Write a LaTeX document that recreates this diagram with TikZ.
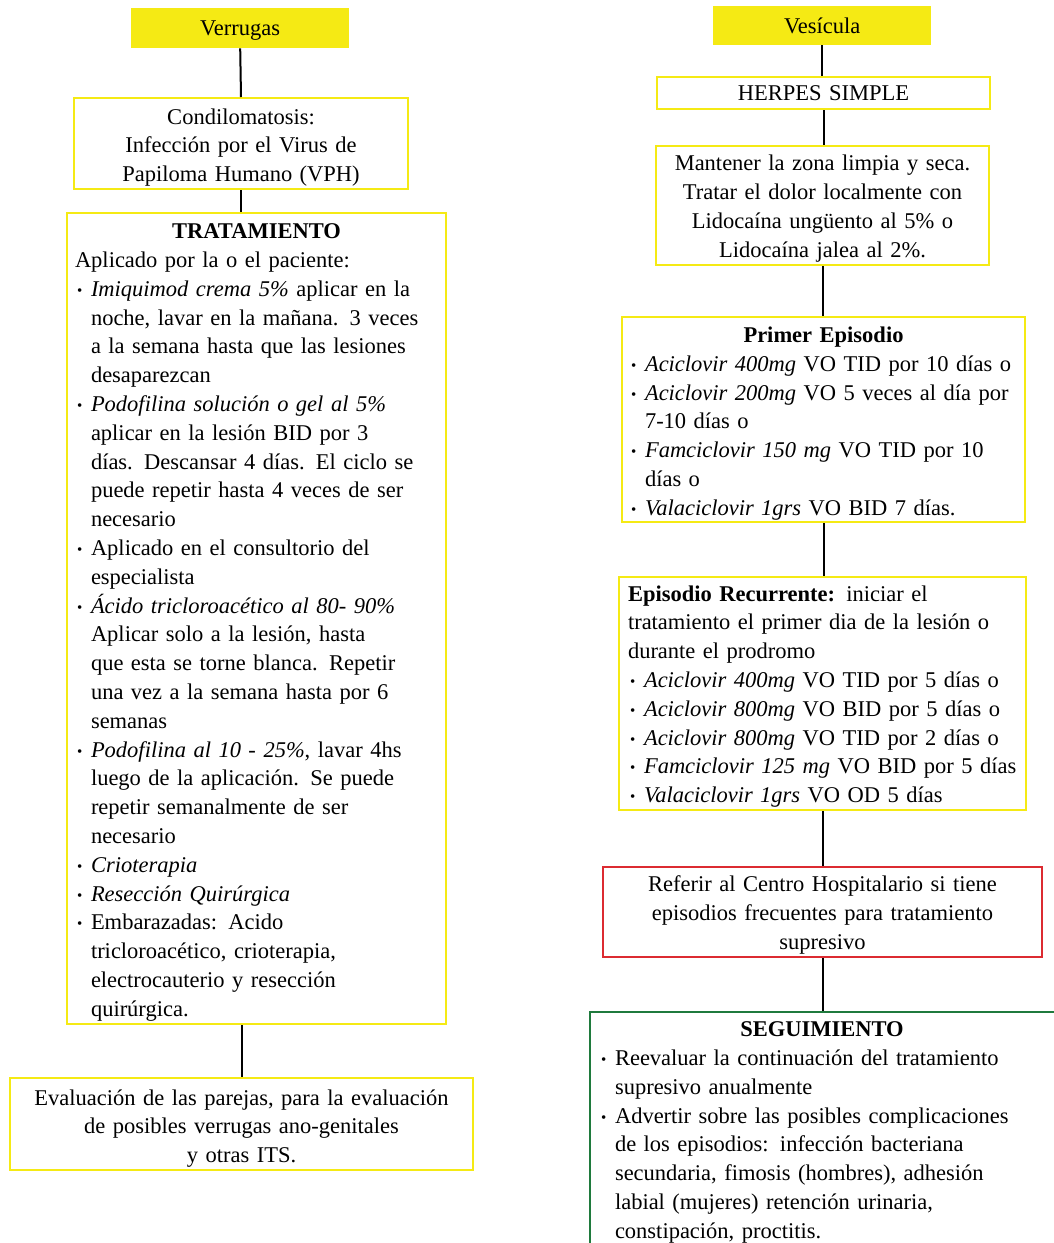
\documentclass[tikz,border=0pt]{standalone}
\usepackage{fontspec}
\setmainfont{Liberation Serif}
\definecolor{ylw}{HTML}{F5EA14}
\definecolor{rdc}{HTML}{DC2B31}
\definecolor{grnc}{HTML}{1F7A3D}
\newcommand{\fsz}{\fontsize{22.5}{28.8}\selectfont}
\newcommand{\bulx}{\makebox[16pt][l]{\hspace{2pt}\raisebox{1pt}{\fontsize{15}{15}\selectfont •}}}
\newcommand{\indx}{\hspace*{16pt}}
\newcommand{\tkdown}[1]{\par\kern-#1}
\begin{document}
\begin{tikzpicture}[x=1pt,y=-1pt,
  hdr/.style={fill=ylw, draw=none, inner sep=0pt, font=\fsz, anchor=north west,
              text width=200pt, align=center, execute at end node={\tkdown{4pt}}},
  ybox/.style={draw=ylw, line width=2pt, inner sep=0pt, font=\fsz, anchor=north west,
              execute at end node={\tkdown{6pt}}},
  sh/.style={execute at end node={\tkdown{#1}}},
  rbox/.style={ybox, draw=rdc},
  gbox/.style={ybox, draw=grnc},
  conn/.style={line width=2pt, black}]
\useasboundingbox (0,0) rectangle (1053,1243);

% left column
\node[hdr, minimum width=218pt, minimum height=40pt] (verr) at (131,8) {Verrugas};
\node[ybox, sh=2pt, minimum width=334pt, minimum height=91pt, text width=320pt, align=center] (cond) at (73,97)
 {Condilomatosis:\\Infección por el Virus de\\Papiloma Humano (VPH)};
\node[ybox, sh=2pt, minimum width=379pt, minimum height=811pt, text width=363pt, align=left] (trat) at (66,212)
 {\makebox[\linewidth][c]{\textbf{TRATAMIENTO}}\\
Aplicado por la o el paciente:\\
\bulx\textit{Imiquimod crema 5\%} aplicar en la\\
\indx noche, lavar en la mañana. 3 veces\\
\indx a la semana hasta que las lesiones\\
\indx desaparezcan\\
\bulx\textit{Podofilina solución o gel al 5\%}\\
\indx aplicar en la lesión BID por 3\\
\indx días. Descansar 4 días. El ciclo se\\
\indx puede repetir hasta 4 veces de ser\\
\indx necesario\\
\bulx Aplicado en el consultorio del\\
\indx especialista\\
\bulx\textit{Ácido tricloroacético al 80- 90\%}\\
\indx Aplicar solo a la lesión, hasta\\
\indx que esta se torne blanca. Repetir\\
\indx una vez a la semana hasta por 6\\
\indx semanas\\
\bulx\textit{Podofilina al 10 - 25\%}, lavar 4hs\\
\indx luego de la aplicación. Se puede\\
\indx repetir semanalmente de ser\\
\indx necesario\\
\bulx\textit{Crioterapia}\\
\bulx\textit{Resección Quirúrgica}\\
\bulx Embarazadas: Acido\\
\indx tricloroacético, crioterapia,\\
\indx electrocauterio y resección\\
\indx quirúrgica.};
\node[ybox, sh=3pt, minimum width=463pt, minimum height=92pt, text width=450pt, align=center] (eval) at (9,1077)
 {Evaluación de las parejas, para la evaluación\\de posibles verrugas ano-genitales\\y otras ITS.};

\draw[conn] (verr.south) -- (cond.north);
\draw[conn] (cond.south) -- (cond.south |- trat.north);
\draw[conn] (eval.north |- trat.south) -- (eval.north);

% right column
\node[hdr, sh=6pt, minimum width=218pt, minimum height=39pt] (vesi) at (713,6) {Vesícula};
\node[ybox, sh=4pt, minimum width=333pt, minimum height=32pt, text width=320pt, align=center] (herp) at (656,76)
 {HERPES SIMPLE};
\node[ybox, minimum width=333pt, minimum height=119pt, text width=325pt, align=center] (mant) at (655,145)
 {Mantener la zona limpia y seca.\\Tratar el dolor localmente con\\Lidocaína ungüento al 5\% o\\Lidocaína jalea al 2\%.};
\node[ybox, sh=2pt, minimum width=403pt, minimum height=205pt, text width=389pt, align=left] (prim) at (621,316)
 {\makebox[\linewidth][c]{\textbf{Primer Episodio}}\\
\bulx\textit{Aciclovir 400mg} VO TID por 10 días o\\
\bulx\textit{Aciclovir 200mg} VO 5 veces al día por\\
\indx 7-10 días o\\
\bulx\textit{Famciclovir 150 mg} VO TID por 10\\
\indx días o\\
\bulx\textit{Valaciclovir 1grs} VO BID 7 días.};
\node[ybox, minimum width=407pt, minimum height=233pt, text width=389pt, align=left] (recu) at (618,576)
 {\textbf{Episodio Recurrente:} iniciar el\\
tratamiento el primer dia de la lesión o\\
durante el prodromo\\
\bulx\textit{Aciclovir 400mg} VO TID por 5 días o\\
\bulx\textit{Aciclovir 800mg} VO BID por 5 días o\\
\bulx\textit{Aciclovir 800mg} VO TID por 2 días o\\
\bulx\textit{Famciclovir 125 mg} VO BID por 5 días\\
\bulx\textit{Valaciclovir 1grs} VO OD 5 días};
\node[rbox, minimum width=439pt, minimum height=90pt, text width=425pt, align=center] (refe) at (602,866)
 {Referir al Centro Hospitalario si tiene\\episodios frecuentes para tratamiento\\supresivo};
\node[gbox, sh=-4pt, minimum width=480pt, minimum height=239pt, text width=462pt, align=left] (segu) at (589,1011)
 {\makebox[446pt][c]{\textbf{SEGUIMIENTO}}\\
\bulx Reevaluar la continuación del tratamiento\\
\indx supresivo anualmente\\
\bulx Advertir sobre las posibles complicaciones\\
\indx de los episodios: infección bacteriana\\
\indx secundaria, fimosis (hombres), adhesión\\
\indx labial (mujeres) retención urinaria,\\
\indx constipación, proctitis.};

\draw[conn] (vesi.south) -- (vesi.south |- herp.north);
\draw[conn] (herp.south) -- (herp.south |- mant.north);
\draw[conn] (mant.south) -- (mant.south |- prim.north);
\draw[conn] (prim.south) -- (prim.south |- recu.north);
\draw[conn] (recu.south) -- (recu.south |- refe.north);
\draw[conn] (refe.south) -- (refe.south |- segu.north);
\end{tikzpicture}
\end{document}
